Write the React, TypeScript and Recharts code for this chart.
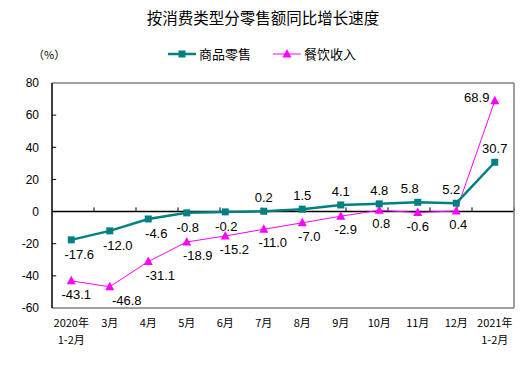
import React from 'react';
import { LineChart, Line, XAxis, YAxis, ReferenceLine, LabelList } from 'recharts';

const months = ['2020年\n1-2月', '3月', '4月', '5月', '6月', '7月', '8月', '9月', '10月', '11月', '12月', '2021年\n1-2月'];
const goodsRetail = [-17.6, -12.0, -4.6, -0.8, -0.2, 0.2, 1.5, 4.1, 4.8, 5.8, 5.2, 30.7];
const cateringIncome = [-43.1, -46.8, -31.1, -18.9, -15.2, -11.0, -7.0, -2.9, 0.8, -0.6, 0.4, 68.9];
const yTicks = [-60, -40, -20, 0, 20, 40, 60, 80];
const boundaries = [1, 2, 3, 4, 5, 6, 7, 8, 9, 10, 11];

const TEAL = '#008080';
const MAGENTA = '#FF00FF';
const NUM_FONT = '"Liberation Sans", Arial, sans-serif';
const CJK_FONT = '"Noto Sans CJK SC", "DejaVu Sans", sans-serif';

const data = months.map((m, i) => ({ month: m, goods: goodsRetail[i], catering: cateringIncome[i] }));

const SquareDot = (props: any) => {
  const { cx, cy, index } = props;
  if (cx == null || cy == null) return null;
  return <rect key={`s${index}`} x={cx - 3.5} y={cy - 3.5} width={7} height={7} fill={TEAL} />;
};

const TriangleDot = (props: any) => {
  const { cx, cy, index } = props;
  if (cx == null || cy == null) return null;
  return (
    <polygon
      key={`t${index}`}
      points={`${cx},${cy - 5} ${cx - 4.5},${cy + 3.5} ${cx + 4.5},${cy + 3.5}`}
      fill={MAGENTA}
    />
  );
};

const goodsLabel = (props: any) => {
  const { x, y, value, index } = props;
  const above = value > 0;
  let dx = 0;
  if (!above) dx = index < 3 ? 8 : 1;
  if (index === 9) dx = -8;
  if (index === 10) dx = -5;
  return (
    <text
      x={x + dx}
      y={above ? y - 9 : y + 19}
      textAnchor="middle"
      fontSize={13}
      fontFamily={NUM_FONT}
      fill="#000"
    >
      {value.toFixed(1)}
    </text>
  );
};

const cateringLabel = (props: any) => {
  const { x, y, value, index } = props;
  if (index === 11) {
    return (
      <text x={x - 18} y={y + 1} textAnchor="middle" fontSize={13} fontFamily={NUM_FONT} fill="#000">
        {value.toFixed(1)}
      </text>
    );
  }
  const dxs = [5, 17, 12, 11, 9, 9, 7, 5, 2, 0, 2];
  return (
    <text x={x + dxs[index]} y={y + 18} textAnchor="middle" fontSize={13} fontFamily={NUM_FONT} fill="#000">
      {value.toFixed(1)}
    </text>
  );
};

const MonthTick = (props: any) => {
  const { x, y, payload } = props;
  const lines = String(payload.value).split('\n');
  return (
    <g>
      {lines.map((l, i) => (
        <text
          key={i}
          x={x}
          y={y + i * 17}
          dy={9}
          textAnchor="middle"
          fontSize={11}
          fontFamily={CJK_FONT}
          fill="#000"
        >
          {l}
        </text>
      ))}
    </g>
  );
};

const legendItems = [
  { name: '商品零售', color: TEAL, shape: 'square', width: 2.5 },
  { name: '餐饮收入', color: MAGENTA, shape: 'triangle', width: 1 },
];

export default function App() {
  return (
    <div style={{ position: 'absolute', left: 0, top: 0, width: 532, height: 367, background: '#fff' }}>
      <div
        style={{
          position: 'absolute',
          top: 6,
          left: 0,
          width: 526,
          textAlign: 'center',
          fontFamily: CJK_FONT,
          fontSize: 15.5,
          color: '#000',
        }}
      >
        按消费类型分零售额同比增长速度
      </div>
      <div style={{ position: 'absolute', top: 46, left: 33, fontFamily: CJK_FONT, fontSize: 11, color: '#000' }}>
        （%）
      </div>
      {/* legend */}
      <div
        style={{
          position: 'absolute',
          top: 46,
          left: 168,
          display: 'flex',
          gap: 22,
          fontFamily: CJK_FONT,
          fontSize: 13,
          lineHeight: '16px',
          color: '#000',
        }}
      >
        {legendItems.map(item => (
          <div key={item.name} style={{ display: 'flex', alignItems: 'center' }}>
            <svg width={28} height={12} style={{ marginRight: 3 }}>
              <line x1={0} y1={6} x2={28} y2={6} stroke={item.color} strokeWidth={item.width} />
              {item.shape === 'square' ? (
                <rect x={10.5} y={2.5} width={7} height={7} fill={item.color} />
              ) : (
                <polygon points="14,1 9.5,9.5 18.5,9.5" fill={item.color} />
              )}
            </svg>
            <span>{item.name}</span>
          </div>
        ))}
      </div>
      <LineChart width={532} height={367} data={data} margin={{ top: 83, right: 17, bottom: 0, left: 0 }}>
        <XAxis
          dataKey="month"
          scale="band"
          interval={0}
          height={59}
          tickLine={false}
          axisLine={{ stroke: '#808080', strokeWidth: 1.5 }}
          tickSize={0}
          tickMargin={10}
          tick={<MonthTick />}
        />
        <XAxis xAxisId="n" type="number" domain={[0, 12]} hide />
        <YAxis
          domain={[-60, 80]}
          ticks={yTicks}
          width={52}
          tickLine={false}
          tickSize={0}
          tickMargin={13}
          axisLine={{ stroke: '#000', strokeWidth: 1.5 }}
          tick={{ fontSize: 12, fill: '#000', fontFamily: NUM_FONT }}
        />
        <YAxis
          yAxisId="r"
          orientation="right"
          domain={[-60, 80]}
          width={1}
          tick={false}
          tickLine={false}
          axisLine={{ stroke: '#808080', strokeWidth: 1.5 }}
        />
        {/* plot frame */}
        <ReferenceLine y={80} stroke="#808080" strokeWidth={1.5} ifOverflow="visible" />
        {yTicks.slice(1, -1).map(t => (
          <ReferenceLine
            key={`yt${t}`}
            xAxisId="n"
            segment={[{ x: 0.001, y: t }, { x: 0.1, y: t }]}
            stroke="#000"
          />
        ))}
        <ReferenceLine y={0} stroke="#000" strokeWidth={1.5} />
        {boundaries.map(b => (
          <ReferenceLine
            key={b}
            xAxisId="n"
            segment={[{ x: b, y: 0 }, { x: b, y: 2.6 }]}
            stroke="#000"
          />
        ))}
        <Line
          type="linear"
          dataKey="catering"
          stroke={MAGENTA}
          strokeWidth={1}
          dot={TriangleDot}
          activeDot={false}
          isAnimationActive={false}
        >
          <LabelList dataKey="catering" content={cateringLabel} />
        </Line>
        <Line
          type="linear"
          dataKey="goods"
          stroke={TEAL}
          strokeWidth={2.5}
          dot={SquareDot}
          activeDot={false}
          isAnimationActive={false}
        >
          <LabelList dataKey="goods" content={goodsLabel} />
        </Line>
      </LineChart>
    </div>
  );
}
